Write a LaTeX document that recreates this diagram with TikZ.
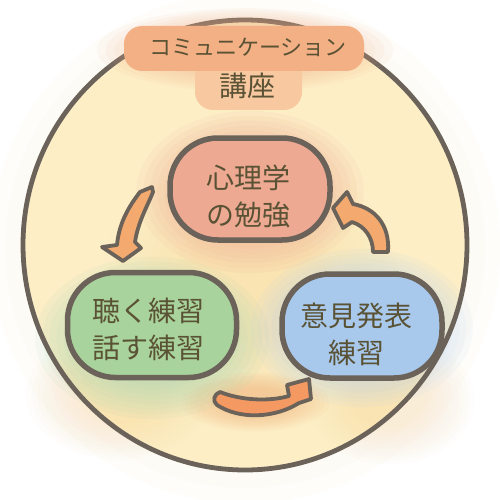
\documentclass[tikz,border=0pt]{standalone}
\usepackage{fontspec}
\newfontfamily\jp{Noto Sans CJK JP}
\definecolor{linec}{HTML}{6B625A}
\definecolor{txt}{HTML}{5A5234}
\definecolor{bgy}{HTML}{FDEEC6}
\definecolor{bgo}{HTML}{FAD497}
\definecolor{salmon}{HTML}{EEA993}
\definecolor{grn}{HTML}{A9D39C}
\definecolor{grnh}{HTML}{A3D7B4}
\definecolor{blu}{HTML}{A8C8EC}
\definecolor{bluh}{HTML}{B6D2F0}
\definecolor{org}{HTML}{F4AA6E}
\definecolor{ttl}{HTML}{F4B085}
\definecolor{ttl2}{HTML}{F8C8A0}
% soft watercolour spot: colour, x, y, rx, ry, opacity per layer
\newcommand\softspot[6]{%
  \foreach \k in {0,...,9}{%
    \fill[#1, opacity=#6] (#2,#3) ellipse [x radius={(#4)*(0.45+0.06*\k)*1pt}, y radius={(#5)*(0.45+0.06*\k)*1pt}];
  }}
\begin{document}
\begin{tikzpicture}[x=1pt,y=-1pt,
  blob/.style={draw=linec, line width=5.5pt, rounded corners=48pt},
  lbl/.style={text=txt, font=\jp\fontsize{28}{37}\selectfont, align=center, inner sep=0pt},
  arr/.style={draw=linec, line width=3.8pt, fill=org, line join=round},
]
\useasboundingbox (0,0) rectangle (500,500);
\fill[white] (0,0) rectangle (500,500);
% background
\softspot{bgy}{245}{248}{258}{258}{0.07}
\fill[bgy] (245,245) ellipse [x radius=222pt, y radius=225pt];
\softspot{bgo}{120}{395}{95}{65}{0.035}
\softspot{bgo}{390}{400}{85}{65}{0.03}
\softspot{bgo}{250}{280}{150}{130}{0.035}
\softspot{org}{255}{402}{75}{30}{0.06}
% halos
\softspot{salmon}{250}{192}{115}{82}{0.09}
\softspot{grnh}{152}{338}{118}{82}{0.09}
\softspot{bluh}{362}{328}{112}{80}{0.09}
% circle
\draw[linec, line width=4.8pt] (245,245) ellipse [x radius=222pt, y radius=225pt];
% title blob
\softspot{ttl}{245}{50}{150}{42}{0.07}
\fill[ttl2, rounded corners=18pt] (195,56) rectangle (302,110);
\fill[ttl, rounded corners=18pt] (124,26) rectangle (364,71);
\node[text=txt, font=\jp\fontsize{22}{26}\selectfont, inner sep=0pt] (title1) at (248,47) {コミュニケーション};
\node[text=txt, font=\jp\fontsize{28}{32}\selectfont, inner sep=0pt] (title2) at (247,86) {講座};
% nodes
\node[blob, fill=salmon, minimum width=160pt, minimum height=102pt] (psy) at (250,189) {};
\node[lbl] (psyt) at (248,196) {心理学\\の勉強};
\node[blob, fill=grn, minimum width=169pt, minimum height=105pt] (lis) at (152,325) {};
\node[lbl] (list) at (148,329) {聴く練習\\話す練習};
\node[blob, fill=blu, minimum width=160pt, minimum height=104pt] (opi) at (362,326) {};
\node[lbl] (opit) at (356,334) {意見発表\\練習};
% arrows
\draw[arr] (140,192) -- (152,187) -- (153,192) .. controls (147,207) and (138,222) .. (135,242) -- (141,248) -- (123,261) -- (102,247) -- (117,245) .. controls (119,222) and (130,205) .. (140,192) -- cycle;
\draw[arr] (333,208) -- (347,192) -- (353,204) .. controls (375,208) and (390,225) .. (388,252) -- (373,252) .. controls (373,238) and (365,226) .. (352,222) -- (343,228) -- cycle;
\draw[arr, fill=org!90!red] (220,392) .. controls (240,400) and (268,402) .. (289,396) -- (287,385) -- (309,379) -- (311,399) -- (299,403) .. controls (275,418) and (240,420) .. (217,405) .. controls (212,401) and (214,394) .. (220,392) -- cycle;
\end{tikzpicture}
\end{document}
